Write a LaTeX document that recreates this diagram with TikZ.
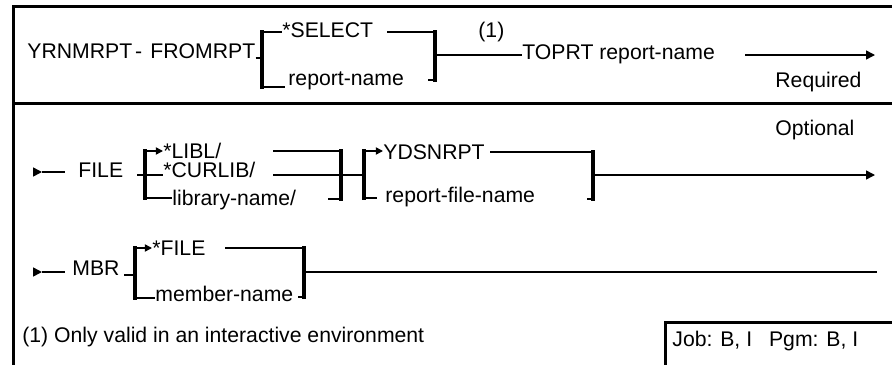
\documentclass[tikz,border=0pt]{standalone}
\usepackage{fontspec}
\setmainfont{Liberation Sans}
\usetikzlibrary{arrows.meta}

\tikzset{
  syn text/.style={
    anchor=base west,
    inner sep=0pt,
    font=\fontsize{10.6}{12}\selectfont
  },
  syn line/.style={
    draw,
    line width=0.75pt
  },
  syn bracket/.style={
    draw,
    line width=1.8pt,
    line cap=rect
  },
  syn arrow/.style={
    syn line,
    -{Triangle[length=4.5pt,width=4.5pt]}
  },
  syn entry/.style={
    syn line,
    -{Triangle[length=3.6pt,width=3.6pt]}
  },
  frame/.style={
    draw,
    line width=1.5pt
  }
}

\begin{document}
\begin{tikzpicture}[x=0.5pt, y=-0.5pt]

  \clip (0,0) rectangle (892,364);

  % Frame
  \draw[frame] (13,380) -- (13,6) -- (900,6);
  \draw[frame] (13,103) -- (900,103);

  % Required parameters
  \node[syn text] (prog) at (27,58) {YRNMRPT\kern1.5pt-};
  \node[syn text] (fromkw) at (150,58) {FROMRPT};
  \node[syn text] (select) at (282,37) {*SELECT};
  \node[syn text] (rptname) at (288,85) {report-name};
  \node[syn text] (note1) at (478,37) {(1)};
  \node[syn text] (toprt) at (522,59) {TOPRT report-name};
  \node[syn text] (required) at (775,87) {Required};

  \coordinate (s1) at (262,32);
  \coordinate (s2) at (262,87);
  \coordinate (s3) at (435,32);
  \coordinate (s4) at (435,80);
  \coordinate (rqend) at (875,55);

  \draw[syn line] (fromkw.base east) -- (fromkw.base east -| s1);
  \draw[syn bracket] (s1) -- (s2);
  \draw[syn line] (s1) -- (select.west |- s1);
  \draw[syn line] (s2) -- (285,87);
  \draw[syn line] (387,32) -- (s3);
  \draw[syn bracket] (s3) -- (s4);
  \draw[syn line] (428,80) -- (s4);
  \draw[syn line] (435,55) -- (toprt.west |- 0,55);
  \draw[syn arrow] (745,55) -- (rqend);

  % Optional parameters: FILE
  \node[syn text] (optional) at (775,135) {Optional};
  \node[syn text] (filekw) at (78,177) {FILE};
  \node[syn text] (libl) at (163,158) {*LIBL/};
  \node[syn text] (curlib) at (163,177) {*CURLIB/};
  \node[syn text] (libname) at (172,205) {library-name/};
  \node[syn text] (ydsn) at (383,159) {YDSNRPT};
  \node[syn text] (rfname) at (385,202) {report-file-name};

  \coordinate (f0) at (33,172);
  \coordinate (l1) at (145,151);
  \coordinate (l2) at (145,198);
  \coordinate (l3) at (341,151);
  \coordinate (l4) at (341,199);
  \coordinate (r1) at (364,151);
  \coordinate (r2) at (364,198);
  \coordinate (r3) at (593,152);
  \coordinate (r4) at (593,199);
  \coordinate (fend) at (875,175);

  \draw[syn arrow] (f0) -- ++(9,0);
  \draw[syn line] (42,172) -- (65,172);
  \draw[syn line] (137,175) -- (curlib.west |- 0,175);
  \draw[syn bracket] (l1) -- (l2);
  \draw[syn entry] (l1) -- (libl.west |- l1);
  \draw[syn line] (l2) -- (libname.west |- l2);
  \draw[syn line] (273,151) -- (l3);
  \draw[syn line] (273,175) -- (341,175);
  \draw[syn bracket] (l3) -- (l4);
  \draw[syn line] (328,199) -- (l4);
  \draw[syn line] (341,175) -- (364,175);
  \draw[syn bracket] (r1) -- (r2);
  \draw[syn entry] (r1) -- (ydsn.west |- r1);
  \draw[syn line] (r2) -- (377,198);
  \draw[syn line] (490,152) -- (r3);
  \draw[syn bracket] (r3) -- (r4);
  \draw[syn line] (587,199) -- (r4);
  \draw[syn arrow] (593,175) -- (fend);

  % Optional parameters: MBR
  \node[syn text] (mbrkw) at (72,275) {MBR};
  \node[syn text] (fileval) at (152,255) {*FILE};
  \node[syn text] (mbrname) at (155,301) {member-name};

  \coordinate (m0) at (33,272);
  \coordinate (m1) at (135,248);
  \coordinate (m2) at (135,298);
  \coordinate (m3) at (304,248);
  \coordinate (m4) at (304,297);
  \coordinate (mend) at (877,272);

  \draw[syn arrow] (m0) -- ++(9,0);
  \draw[syn line] (42,272) -- (65,272);
  \draw[syn line] (124,275) -- (135,275);
  \draw[syn bracket] (m1) -- (m2);
  \draw[syn entry] (m1) -- (fileval.west |- m1);
  \draw[syn line] (m2) -- (mbrname.west |- m2);
  \draw[syn line] (225,248) -- (m3);
  \draw[syn bracket] (m3) -- (m4);
  \draw[syn line] (298,297) -- (m4);
  \draw[syn line] (304,272) -- (mend);

  % Footnote and usage box
  \node[syn text] (foot) at (22,342) {(1) Only valid in an interactive environment};
  \draw[frame] (665,322) rectangle (905,380);
  \node[syn text] (usage) at (672,346) {Job: B, I\hspace{0.8em}Pgm: B, I};

\end{tikzpicture}
\end{document}
